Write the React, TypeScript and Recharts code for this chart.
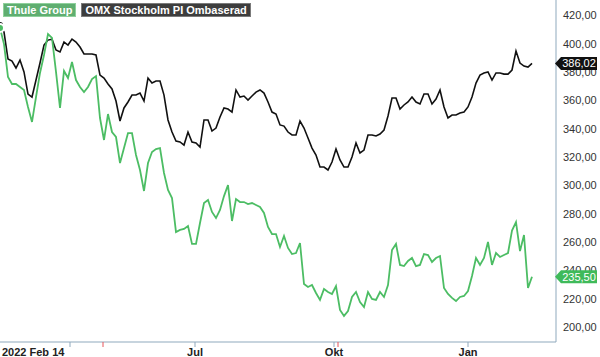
import React from "react";
import { LineChart, Line, XAxis, YAxis, ReferenceLine } from "recharts";

// Series (one value per 2 trading days, 2022-02-14 .. 2023-02)
const thuleGroup: number[] = [
  411.0, 399.7, 376.4, 371.5, 371.5, 369.4, 367.3, 355.3, 344.7, 362.3,
  379.3, 392.0, 406.8, 404.0, 380.0, 354.6, 380.7, 375.7, 387.0, 374.3,
  369.4, 365.8, 369.4, 375.0, 377.1, 347.5, 332.0, 350.3, 337.6, 334.1,
  315.7, 326.3, 336.9, 336.9, 321.4, 310.8, 296.0, 315.7, 323.5, 325.6,
  326.3, 308.7, 296.7, 291.0, 267.0, 268.5, 269.2, 271.3, 258.6, 258.6,
  273.4, 287.5, 289.6, 281.2, 276.9, 282.6, 292.4, 300.2, 274.8, 290.3,
  288.2, 288.2, 286.8, 287.5, 286.1, 284.7, 280.5, 270.6, 265.6, 265.6,
  256.5, 264.2, 255.8, 251.5, 252.2, 259.3, 230.3, 228.2, 229.6, 224.0,
  219.1, 226.8, 224.7, 223.3, 228.9, 212.0, 207.8, 211.3, 221.2, 224.7,
  217.6, 214.1, 224.7, 219.8, 219.1, 224.7, 221.2, 229.6, 254.3, 258.6,
  243.8, 243.0, 246.6, 248.7, 243.0, 243.8, 251.5, 250.8, 245.9, 248.7,
  250.1, 227.5, 223.3, 220.5, 218.3, 221.2, 221.9, 225.4, 236.0, 248.7,
  243.8, 248.7, 260.0, 243.8, 252.2, 249.4, 250.8, 252.2, 268.0, 274.0,
  253.6, 264.9, 227.5, 235.5,
];

const omxPi: number[] = [
  413.1, 408.2, 389.1, 387.7, 382.8, 388.4, 380.0, 364.4, 362.3, 374.3,
  386.3, 399.0, 402.5, 403.2, 395.5, 394.1, 401.1, 399.0, 403.2, 401.1,
  397.6, 392.7, 392.7, 392.7, 392.0, 377.8, 375.7, 371.5, 368.0, 359.5,
  345.4, 354.6, 358.8, 363.7, 363.7, 365.1, 359.5, 375.7, 372.2, 373.6,
  373.6, 363.7, 346.1, 337.6, 331.3, 330.6, 328.4, 337.6, 330.6, 329.9,
  327.0, 346.1, 346.1, 338.3, 340.4, 348.2, 354.6, 353.8, 351.7, 367.3,
  362.3, 363.0, 360.2, 363.0, 365.8, 367.3, 365.1, 358.8, 351.7, 350.3,
  342.6, 341.8, 337.6, 335.5, 335.5, 345.4, 340.4, 333.4, 326.3, 321.4,
  312.9, 312.9, 310.8, 316.4, 325.6, 317.9, 312.9, 312.9, 320.0, 329.9,
  322.8, 324.9, 335.5, 335.5, 334.8, 336.2, 339.0, 348.9, 361.6, 361.6,
  353.8, 356.7, 358.8, 362.3, 358.8, 357.4, 364.4, 364.4, 357.4, 360.9,
  367.3, 355.3, 347.5, 349.6, 349.6, 351.0, 351.7, 355.3, 362.3, 372.2,
  377.8, 379.3, 380.0, 374.3, 379.3, 379.3, 378.5, 378.5, 381.4, 394.8,
  386.3, 384.2, 383.5, 386.02,
];

const seriesNames = ["Thule Group", "OMX Stockholm PI Ombaserad"];

// X ticks (positions in sample index units) and labels
const xTickPos: number[] = [0, 17.5, 25.75, 48.75, 83.5, 84.5, 117];
const xTickLabels: string[] = ["2022 Feb 14", "", "", "Jul", "Okt", "", "Jan"];
const eventMarks: number[] = [25.75, 84.5];
const xDomainMax = 139;

const yTicks: number[] = [200, 220, 240, 260, 280, 300, 320, 340, 360, 380, 400, 420];
const yDomain: [number, number] = [189.4, 430.8];

const data = thuleGroup.map((v, i) => ({ i, thule: v, omx: omxPi[i] }));

const FONT = "'Liberation Sans', Arial, sans-serif";
const GREEN = "#4cbd64";
const BLACK = "#111111";
const AXIS = "#8fa9bd";

const fmt = (v: number) => v.toFixed(2).replace(".", ",");

const YTick = (props: any) => {
  const { x, y, payload } = props;
  return (
    <text x={x} y={y} dy={4} textAnchor="start" fontSize={11} fill="#333" fontFamily={FONT}>
      {fmt(payload.value)}
    </text>
  );
};

const XTick = (props: any) => {
  const { x, y, payload } = props;
  const idx = xTickPos.indexOf(payload.value);
  const label = idx >= 0 ? xTickLabels[idx] : "";
  const isEvent = eventMarks.includes(payload.value);
  const first = payload.value === 0;
  return (
    <g>
      {!first && (
        <line x1={x} x2={x} y1={y} y2={y + 5} stroke={isEvent ? "#e8555a" : AXIS} strokeWidth={1} />
      )}
      {label && (
        <text
          x={first ? x + 2 : x}
          y={y + 14}
          textAnchor={first ? "start" : "middle"}
          fontSize={11}
          fontWeight="bold"
          fill="#222"
          fontFamily={FONT}
        >
          {label}
        </text>
      )}
    </g>
  );
};

const makeTag = (value: number, color: string) => (props: any) => {
  const vb = props.viewBox || {};
  const right = (vb.x || 0) + (vb.width || 0);
  const y = vb.y || 0;
  const tip = right - 1;
  const bx = right + 5;
  const bw = 36;
  const h = 13;
  return (
    <g>
      <polygon
        points={`${tip},${y} ${bx},${y - h / 2} ${bx + bw},${y - h / 2} ${bx + bw},${y + h / 2} ${bx},${y + h / 2}`}
        fill={color}
      />
      <text x={bx + bw / 2} y={y + 4} textAnchor="middle" fontSize={11} fill="#fff" fontFamily={FONT}>
        {fmt(value)}
      </text>
    </g>
  );
};

const legendColors = ["#5fae70", "#3d3d3d"];
const legendBorders = ["#8fd09c", "#7a7a7a"];

const chartMargin = { top: 0, right: 0, bottom: 0, left: 0 };

export default function App() {
  const lastThule = thuleGroup[thuleGroup.length - 1];
  const lastOmx = omxPi[omxPi.length - 1];
  return (
    <div style={{ position: "absolute", left: 0, top: 0, width: 600, height: 357, background: "#fff" }}>
      <LineChart width={600} height={357} data={data} margin={chartMargin}>
        <XAxis
          dataKey="i"
          type="number"
          domain={[0, xDomainMax]}
          ticks={xTickPos}
          interval={0}
          height={15}
          tickSize={0}
          tickMargin={0}
          tickLine={false}
          axisLine={{ stroke: AXIS }}
          tick={<XTick />}
        />
        <YAxis
          orientation="right"
          domain={yDomain}
          ticks={yTicks}
          interval={0}
          width={44}
          tickSize={0}
          tickMargin={7}
          tickLine={false}
          axisLine={{ stroke: AXIS }}
          tick={<YTick />}
          allowDataOverflow
        />
        <Line type="linear" dataKey="omx" stroke={BLACK} strokeWidth={1.6} dot={false} isAnimationActive={false} />
        <Line type="linear" dataKey="thule" stroke={GREEN} strokeWidth={1.8} dot={false} isAnimationActive={false} />
      </LineChart>
      {/* overlay for last-value tags so they sit above the axis labels */}
      <div style={{ position: "absolute", left: 0, top: 0, pointerEvents: "none" }}>
        <LineChart width={600} height={357} data={data} margin={chartMargin}>
          <XAxis
            dataKey="i"
            type="number"
            domain={[0, xDomainMax]}
            height={15}
            tick={false}
            tickLine={false}
            axisLine={false}
          />
          <YAxis
            orientation="right"
            domain={yDomain}
            width={44}
            tick={false}
            tickLine={false}
            axisLine={false}
            allowDataOverflow
          />
          <ReferenceLine y={lastOmx} stroke="none" ifOverflow="visible" label={makeTag(lastOmx, "#111")} />
          <ReferenceLine y={lastThule} stroke="none" ifOverflow="visible" label={makeTag(lastThule, "#3fba5a")} />
        </LineChart>
      </div>
      <div style={{ position: "absolute", left: 3, top: 3, display: "flex", gap: 5, fontFamily: FONT }}>
        {seriesNames.map((n, k) => (
          <div
            key={n}
            style={{
              background: legendColors[k],
              border: `1px solid ${legendBorders[k]}`,
              color: "#fff",
              fontSize: 11,
              fontWeight: "bold",
              lineHeight: "12px",
              padding: "0px 3px",
              whiteSpace: "nowrap",
            }}
          >
            {n}
          </div>
        ))}
      </div>
    </div>
  );
}
